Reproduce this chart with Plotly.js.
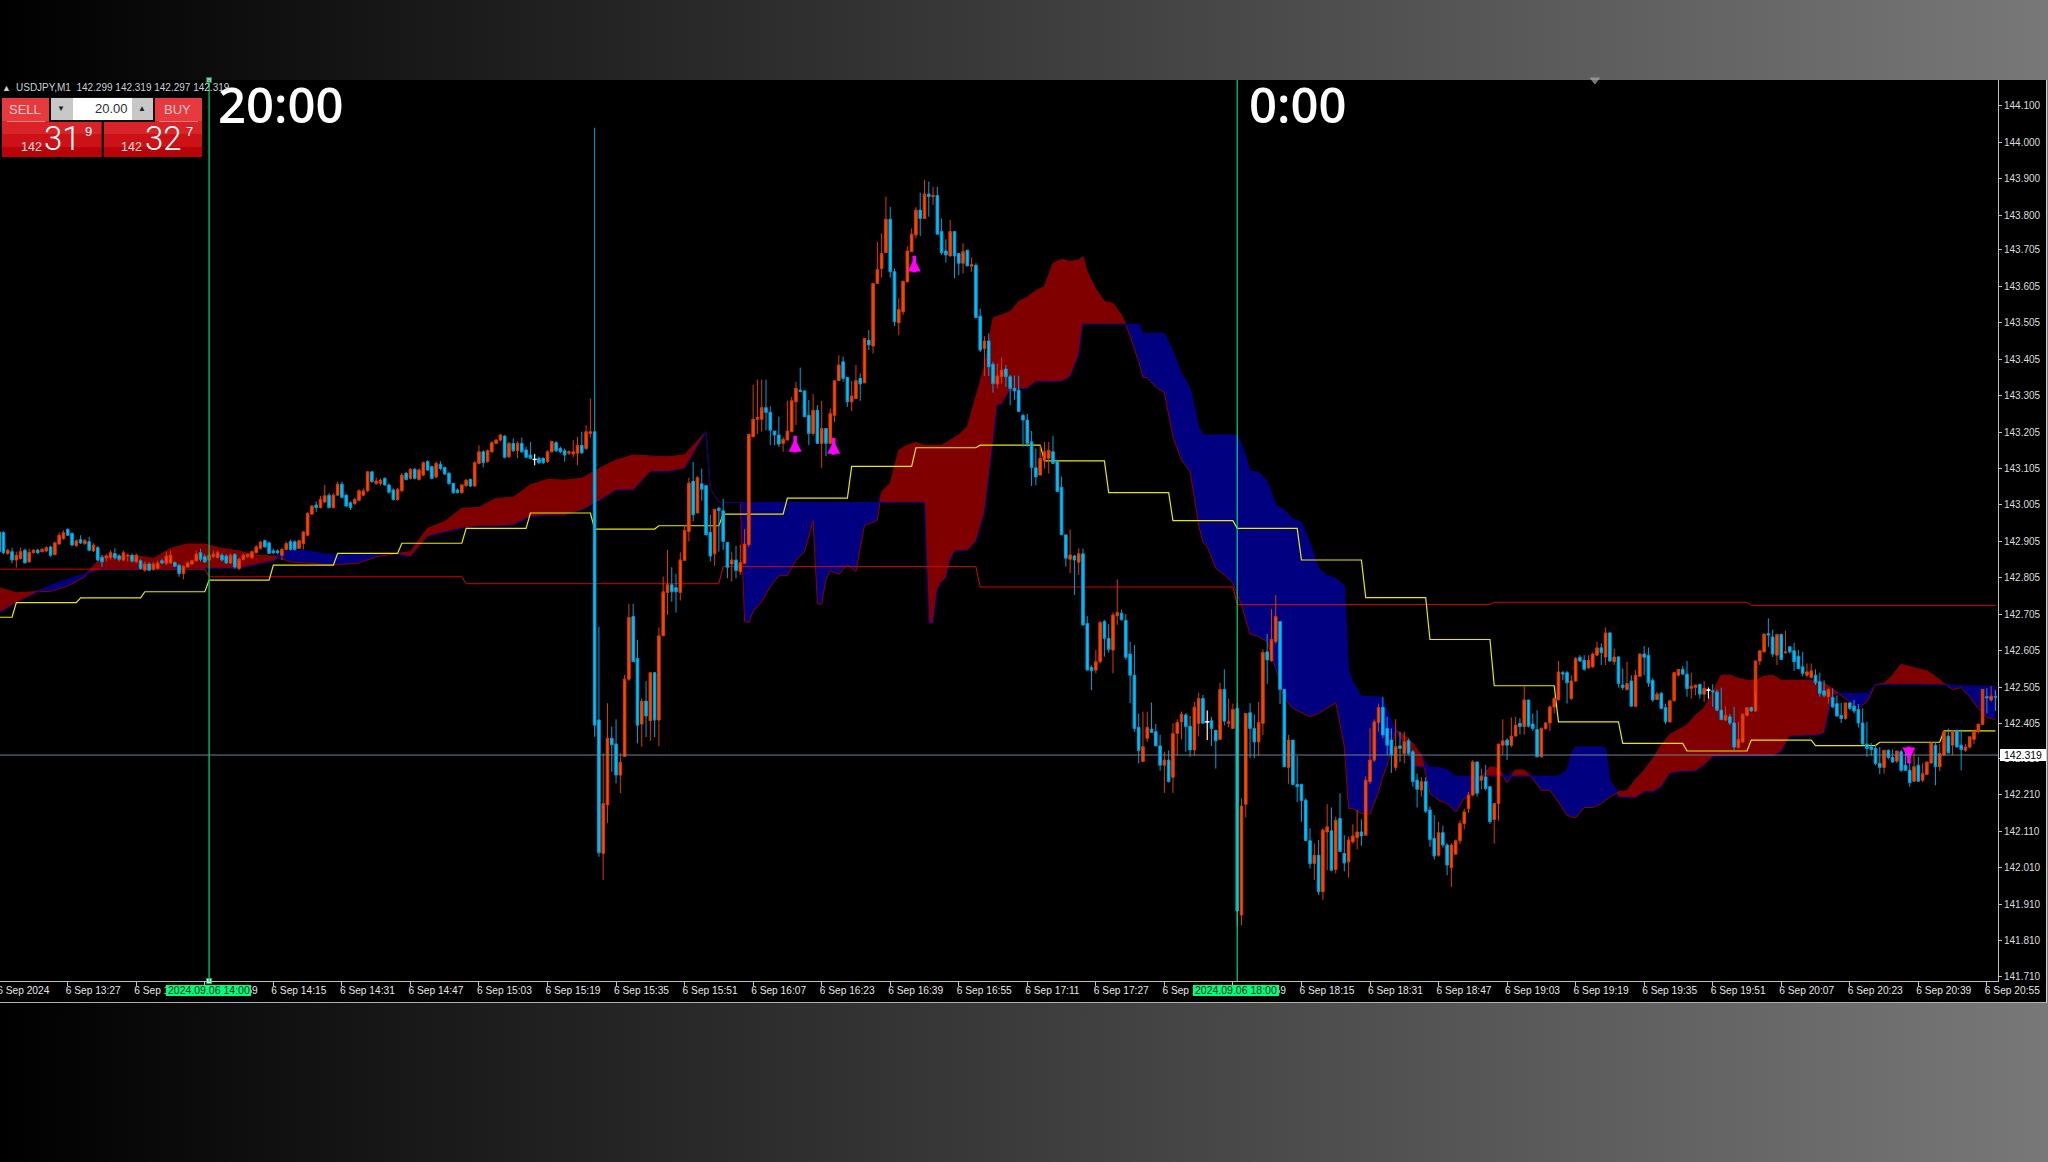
<!DOCTYPE html>
<html><head><meta charset="utf-8">
<script src="https://cdn.plot.ly/plotly-3.0.1.min.js"></script>
<style>
html,body{margin:0;padding:0;width:2048px;height:1162px;overflow:hidden;background:linear-gradient(to right,#000 0%,#787878 100%);}
#chart{position:absolute;left:-10px;top:0;width:2058px;height:1162px;}
</style></head><body><div id="chart"></div>
<script>
// Bars are minute indexes, 0 = 6 Sep 13:11
const candleOpen=[
142.931,142.929,142.872,142.877,142.854,142.858,142.881,142.849,142.874,142.881,
142.877,142.879,142.890,142.869,142.898,142.913,142.938,142.927,142.894,142.910,
142.899,142.904,142.879,142.888,142.861,142.860,142.861,142.872,142.865,142.854,
142.865,142.867,142.849,142.852,142.826,142.843,142.829,142.831,142.852,142.845,
142.846,142.847,142.840,142.817,142.835,142.843,142.852,142.874,142.863,142.854,
142.863,142.861,142.867,142.865,142.846,142.869,142.831,142.856,142.863,142.860,
142.874,142.886,142.907,142.901,142.879,142.879,142.867,142.883,142.904,142.904,
142.886,142.899,142.922,142.980,143.005,142.998,143.013,143.032,142.998,143.032,
143.062,143.032,143.011,143.009,143.018,143.032,143.044,143.096,143.064,143.064,
143.078,143.060,143.046,143.020,143.044,143.092,143.078,143.103,143.075,143.087,
143.124,143.110,143.082,143.117,143.108,143.092,143.064,143.046,143.039,143.058,
143.075,143.057,143.119,143.151,143.124,143.151,143.174,143.183,143.194,143.137,
143.174,143.154,143.174,143.156,143.142,143.130,143.133,143.133,143.124,143.151,
143.176,143.160,143.154,143.147,143.145,143.147,143.169,143.160,143.201,143.206,
142.415,142.049,142.182,142.365,142.349,142.264,142.315,142.527,142.699,142.584,
142.404,142.467,142.413,142.545,142.415,142.646,142.765,142.786,142.778,142.765,
142.853,142.932,143.070,142.983,143.063,143.058,142.930,142.871,142.996,142.989,
142.902,142.843,142.854,142.822,142.845,142.896,143.192,143.240,143.240,143.272,
143.259,143.208,143.197,143.174,143.183,143.206,143.288,143.320,143.318,143.251,
143.201,143.265,143.174,143.215,143.174,143.251,143.346,143.398,143.355,143.288,
143.297,143.352,143.340,143.457,143.441,143.613,143.654,143.697,143.789,143.645,
143.505,143.535,143.617,143.700,143.746,143.814,143.791,143.858,143.851,143.854,
143.755,143.702,143.688,143.755,143.695,143.668,143.704,143.660,143.663,143.523,
143.434,143.455,143.391,143.337,143.357,143.378,143.357,143.325,143.320,143.251,
143.238,143.178,143.107,143.087,143.128,143.133,143.151,143.124,143.054,142.923,
142.856,142.865,142.848,142.871,142.680,142.559,142.552,142.575,142.685,142.639,
142.607,142.701,142.708,142.688,142.596,142.538,142.395,142.301,142.365,142.390,
142.383,142.344,142.291,142.305,142.258,142.378,142.410,142.429,142.398,142.333,
142.406,142.474,142.410,142.413,142.387,142.362,142.499,142.406,142.392,142.447,
141.880,142.184,142.435,142.392,142.355,142.406,142.602,142.578,142.630,142.685,
142.499,142.285,142.360,142.238,142.238,142.195,142.084,142.021,142.044,141.944,
142.108,142.111,142.005,142.145,142.049,142.026,142.081,142.093,142.108,142.099,
142.246,142.305,142.408,142.450,142.392,142.360,142.285,142.344,142.323,142.358,
142.328,142.250,142.223,142.246,142.168,142.090,142.044,142.106,142.072,142.010,
142.047,142.084,142.131,142.172,142.209,142.300,142.250,142.259,142.232,142.142,
142.186,142.346,142.360,142.346,142.371,142.406,142.397,142.470,142.404,142.389,
142.314,142.392,142.407,142.451,142.471,142.545,142.545,142.474,142.522,142.587,
142.579,142.558,142.561,142.593,142.613,142.588,142.654,142.575,142.588,142.511,
142.499,142.522,142.453,142.535,142.596,142.593,142.524,142.471,142.488,142.449,
142.410,142.468,142.538,142.554,142.541,142.502,142.504,142.513,142.486,142.497,
142.495,142.492,142.442,142.415,142.424,142.407,142.340,142.355,142.428,142.449,
142.440,142.577,142.602,142.652,142.643,142.593,142.650,142.599,142.616,142.605,
142.590,142.561,142.538,142.532,142.538,142.520,142.495,142.479,142.477,142.460,
142.428,142.419,142.462,142.453,142.444,142.407,142.349,142.341,142.337,142.296,
142.285,142.332,142.312,142.302,142.328,142.291,142.277,142.247,142.291,142.250,
142.266,142.297,142.346,142.287,142.319,142.371,142.346,142.387,142.346,142.332,
142.341,142.362,142.383,142.403,142.479,142.470,142.479];
const candleHigh=[
142.936,142.933,142.885,142.888,142.877,142.888,142.885,142.885,142.884,142.885,
142.887,142.892,142.893,142.905,142.929,142.935,142.941,142.930,142.910,142.922,
142.912,142.918,142.900,142.892,142.868,142.870,142.881,142.886,142.870,142.880,
142.872,142.872,142.872,142.856,142.850,142.848,142.848,142.853,142.858,142.877,
142.880,142.850,142.842,142.840,142.850,142.855,142.880,142.885,142.870,142.875,
142.880,142.880,142.873,142.870,142.872,142.873,142.860,142.872,142.872,142.880,
142.895,142.906,142.910,142.905,142.885,142.883,142.888,142.905,142.910,142.908,
142.910,142.934,142.985,143.005,143.015,143.030,143.060,143.037,143.037,143.069,
143.069,143.035,143.015,143.025,143.048,143.050,143.098,143.098,143.080,143.078,
143.081,143.064,143.050,143.052,143.093,143.096,143.106,143.107,143.105,143.124,
143.128,143.113,143.125,143.125,143.110,143.095,143.066,143.050,143.063,143.076,
143.078,143.125,143.169,143.155,143.157,143.180,143.186,143.200,143.197,143.178,
143.188,143.180,143.190,143.165,143.178,143.145,143.138,143.136,143.155,143.182,
143.180,143.165,143.160,143.155,143.183,143.192,143.206,143.224,143.297,144.040,
142.671,142.324,142.461,142.397,142.417,142.324,142.539,142.734,142.734,142.635,
142.475,142.522,142.545,142.545,142.669,142.809,142.882,142.834,142.816,142.875,
142.950,143.080,143.123,143.084,143.105,143.057,142.978,142.993,143.000,143.022,
142.902,142.877,142.893,142.896,142.939,143.199,143.334,143.349,143.349,143.349,
143.276,143.208,143.247,143.192,143.291,143.302,143.343,143.382,143.318,143.293,
143.309,143.279,143.291,143.215,143.270,143.346,143.416,143.412,143.355,143.345,
143.389,143.366,143.462,143.485,143.613,143.727,143.750,143.851,143.823,143.654,
143.572,143.619,143.714,143.764,143.822,143.862,143.897,143.892,143.878,143.878,
143.791,143.734,143.787,143.755,143.695,143.723,143.704,143.684,143.668,143.544,
143.468,143.476,143.398,143.393,143.410,143.389,143.362,143.360,143.360,143.255,
143.255,143.208,143.160,143.169,143.178,143.178,143.194,143.127,143.083,142.923,
142.938,142.868,142.886,142.885,142.700,142.565,142.607,142.687,142.690,142.678,
142.710,142.801,142.718,142.706,142.630,142.621,142.433,142.438,142.438,142.463,
142.404,142.375,142.328,142.332,142.406,142.417,142.438,142.434,142.426,142.465,
142.490,142.484,142.441,142.424,142.387,142.517,142.554,142.474,142.460,142.461,
142.200,142.433,142.461,142.430,142.465,142.609,142.651,142.719,142.758,142.685,
142.499,142.374,142.360,142.316,142.241,142.200,142.118,142.076,142.086,142.118,
142.184,142.175,142.150,142.214,142.099,142.095,142.129,142.168,142.142,142.261,
142.392,142.417,142.460,142.479,142.424,142.392,142.417,142.383,142.383,142.365,
142.332,142.268,142.258,142.258,142.178,142.154,142.136,142.125,142.077,142.077,
142.087,142.140,142.172,142.218,142.305,142.300,142.282,142.292,142.232,142.186,
142.349,142.417,142.365,142.422,142.424,142.420,142.508,142.470,142.433,142.442,
142.395,142.410,142.455,142.478,142.577,142.550,142.550,142.538,142.588,142.593,
142.593,142.593,142.600,142.630,142.625,142.669,142.657,142.611,142.590,142.556,
142.575,142.538,142.552,142.598,142.618,142.614,142.529,142.492,142.492,142.460,
142.408,142.470,142.547,142.563,142.577,142.545,142.511,142.512,142.522,142.504,
142.513,142.499,142.504,142.453,142.432,142.451,142.410,142.364,142.433,142.452,
142.492,142.579,142.610,142.694,142.663,142.648,142.652,142.660,142.607,142.627,
142.607,142.602,142.570,142.570,142.554,142.545,142.524,142.502,142.502,142.483,
142.462,142.431,142.465,142.470,142.459,142.447,142.410,142.352,142.346,142.341,
142.300,142.334,142.334,142.316,142.334,142.332,142.314,142.328,142.314,142.296,
142.282,142.305,142.355,142.349,142.351,142.392,142.383,142.387,142.389,142.349,
142.343,142.371,142.387,142.419,142.502,142.508,142.497,142.502];
const candleLow=[
142.872,142.870,142.868,142.845,142.833,142.855,142.845,142.846,142.872,142.870,
142.875,142.875,142.862,142.866,142.895,142.910,142.920,142.893,142.890,142.898,
142.895,142.878,142.876,142.850,142.835,142.850,142.855,142.855,142.850,142.850,
142.850,142.847,142.845,142.828,142.822,142.824,142.825,142.829,142.843,142.840,
142.843,142.835,142.808,142.801,142.833,142.840,142.850,142.850,142.846,142.852,
142.860,142.858,142.850,142.843,142.843,142.830,142.826,142.853,142.860,142.858,
142.872,142.883,142.888,142.870,142.870,142.870,142.854,142.880,142.880,142.880,
142.884,142.883,142.920,142.978,142.986,142.995,143.010,142.995,142.995,143.030,
143.023,143.000,142.991,143.005,143.015,143.030,143.040,143.066,143.060,143.058,
143.058,143.036,143.017,143.017,143.040,143.072,143.075,143.075,143.072,143.084,
143.098,143.075,143.078,143.100,143.087,143.060,143.035,143.036,143.035,143.055,
143.054,143.055,143.116,143.108,143.121,143.148,143.172,143.180,143.133,143.134,
143.150,143.133,143.148,143.133,143.130,143.114,143.117,143.117,143.120,143.148,
143.150,143.147,143.124,143.142,143.135,143.114,143.145,143.155,143.190,142.369,
142.040,141.976,142.132,142.273,142.241,142.214,142.315,142.522,142.575,142.351,
142.342,142.368,142.358,142.368,142.344,142.646,142.703,142.740,142.710,142.743,
142.853,142.905,142.960,142.983,143.017,142.923,142.850,142.838,142.877,142.882,
142.804,142.795,142.804,142.813,142.845,142.889,143.192,143.200,143.206,143.210,
143.169,143.169,143.164,143.151,143.183,143.206,143.224,143.316,143.247,143.169,
143.195,143.174,143.107,143.139,143.174,143.233,143.346,143.343,143.274,143.263,
143.297,143.291,143.340,143.430,143.421,143.613,143.629,143.697,143.629,143.496,
143.471,143.526,143.617,143.700,143.736,143.743,143.791,143.796,143.828,143.748,
143.691,143.670,143.688,143.627,143.636,143.640,143.661,143.645,143.519,143.425,
143.359,143.359,143.313,143.325,143.338,143.329,143.279,143.293,143.261,143.165,
143.165,143.057,143.059,143.087,143.105,143.091,143.119,143.040,142.923,142.836,
142.818,142.758,142.813,142.673,142.552,142.497,142.543,142.570,142.589,142.600,
142.543,142.676,142.688,142.580,142.461,142.383,142.296,142.300,142.355,142.381,
142.344,142.276,142.215,142.244,142.215,142.319,142.362,142.328,142.314,142.317,
142.370,142.406,142.360,142.344,142.282,142.360,142.400,142.395,142.392,141.848,
141.852,142.148,142.310,142.310,142.317,142.374,142.514,142.575,142.625,142.459,
142.287,142.239,142.236,142.190,142.136,142.084,142.008,141.976,141.935,141.921,
142.003,142.000,141.994,142.054,142.000,141.983,142.076,142.060,142.070,142.099,
142.240,142.300,142.383,142.365,142.319,142.270,142.276,142.300,142.296,142.320,
142.232,142.175,142.205,142.160,142.067,142.032,142.040,142.065,141.989,141.957,
142.047,142.075,142.115,142.160,142.205,142.205,142.225,142.222,142.130,142.076,
142.139,142.320,142.305,142.340,142.370,142.375,142.375,142.395,142.385,142.314,
142.312,142.388,142.385,142.433,142.468,142.524,142.460,142.470,142.520,142.574,
142.550,142.556,142.558,142.590,142.566,142.566,142.575,142.566,142.504,142.497,
142.495,142.451,142.450,142.533,142.538,142.506,142.465,142.470,142.444,142.404,
142.408,142.466,142.535,142.538,142.479,142.474,142.483,142.474,142.465,142.474,
142.451,142.440,142.415,142.412,142.401,142.330,142.337,142.352,142.425,142.437,
142.437,142.566,142.600,142.616,142.588,142.566,142.579,142.598,142.598,142.550,
142.554,142.535,142.532,142.529,142.511,142.479,142.477,142.460,142.449,142.424,
142.407,142.416,142.442,142.433,142.394,142.346,142.314,142.316,142.291,142.266,
142.268,142.307,142.297,142.297,142.273,142.275,142.232,142.245,142.245,142.245,
142.264,142.296,142.236,142.275,142.316,142.323,142.319,142.340,142.277,142.328,
142.337,142.349,142.378,142.401,142.433,142.465,142.440];
const candleClose=[
142.877,142.874,142.881,142.854,142.867,142.877,142.846,142.875,142.881,142.874,
142.883,142.888,142.867,142.901,142.922,142.929,142.922,142.895,142.907,142.901,
142.907,142.881,142.895,142.854,142.849,142.865,142.874,142.860,142.856,142.874,
142.867,142.851,142.867,142.831,142.843,142.826,142.843,142.846,142.846,142.865,
142.867,142.837,142.817,142.837,142.846,142.852,142.870,142.856,142.849,142.867,
142.870,142.874,142.854,142.846,142.867,142.835,142.856,142.867,142.869,142.877,
142.890,142.903,142.890,142.872,142.874,142.874,142.883,142.899,142.883,142.883,
142.907,142.931,142.982,143.002,142.998,143.020,143.030,142.998,143.032,143.062,
143.026,143.002,142.998,143.020,143.044,143.044,143.096,143.069,143.071,143.073,
143.060,143.040,143.020,143.048,143.087,143.075,143.103,143.078,143.101,143.121,
143.101,143.078,143.119,143.105,143.090,143.064,143.039,143.039,143.060,143.073,
143.057,143.121,143.151,143.121,143.154,143.176,143.183,143.197,143.136,143.174,
143.154,143.174,143.151,143.136,143.133,143.130,143.121,143.121,143.151,143.179,
143.154,143.151,143.142,143.151,143.151,143.169,143.148,143.206,143.206,142.401,
142.051,142.186,142.365,142.347,142.264,142.299,142.527,142.696,142.575,142.401,
142.467,142.426,142.545,142.415,142.646,142.767,142.786,142.767,142.767,142.854,
142.935,143.065,142.978,143.080,143.048,142.923,142.865,142.993,142.990,142.905,
142.834,142.854,142.825,142.847,142.898,143.199,143.240,143.245,143.272,143.259,
143.210,143.197,143.172,143.185,143.208,143.291,143.325,143.316,143.247,143.201,
143.265,143.174,143.215,143.174,143.256,143.346,143.389,143.352,143.288,143.304,
143.346,143.337,143.462,143.444,143.613,143.651,143.695,143.789,143.645,143.508,
143.541,143.619,143.702,143.748,143.814,143.791,143.858,143.851,143.854,143.748,
143.697,143.691,143.755,143.688,143.668,143.700,143.661,143.665,143.519,143.430,
143.455,143.384,143.338,143.359,143.375,143.357,143.325,143.318,143.261,143.238,
143.174,143.108,143.082,143.133,143.151,143.155,143.119,143.042,142.923,142.859,
142.868,142.854,142.871,142.676,142.552,142.550,142.575,142.682,142.639,142.609,
142.703,142.710,142.690,142.587,142.538,142.392,142.331,142.342,142.395,142.381,
142.344,142.291,142.305,142.246,142.378,142.408,142.431,142.397,142.333,142.450,
142.474,142.406,142.410,142.392,142.358,142.499,142.412,142.410,142.444,141.891,
142.179,142.433,142.392,142.355,142.408,142.600,142.580,142.636,142.699,142.499,
142.287,142.360,142.238,142.232,142.194,142.084,142.021,142.044,141.944,142.113,
142.122,142.003,142.140,142.054,142.023,142.086,142.097,142.108,142.097,142.250,
142.305,142.410,142.449,142.374,142.346,142.319,142.342,142.337,142.355,142.323,
142.246,142.225,142.246,142.165,142.087,142.042,142.106,142.072,142.017,142.072,
142.084,142.131,142.163,142.209,142.300,142.214,142.261,142.227,142.136,142.186,
142.349,142.358,142.346,142.371,142.401,142.397,142.470,142.398,142.392,142.314,
142.392,142.407,142.451,142.474,142.547,142.541,142.517,142.522,142.584,142.577,
142.554,142.579,142.596,142.613,142.600,142.654,142.577,142.588,142.515,142.504,
142.515,142.453,142.538,142.596,142.587,142.517,142.470,142.486,142.447,142.410,
142.468,142.545,142.554,142.541,142.501,142.508,142.511,142.486,142.502,142.497,
142.492,142.442,142.416,142.428,142.407,142.341,142.362,142.431,142.449,142.440,
142.577,142.605,142.651,142.648,142.596,142.650,142.581,142.602,142.602,142.575,
142.556,142.543,142.547,142.550,142.517,142.488,142.483,142.499,142.451,142.426,
142.419,142.462,142.447,142.440,142.407,142.349,142.337,142.334,142.296,142.285,
142.332,142.312,142.300,142.330,142.277,142.277,142.243,142.287,142.247,142.268,
142.300,142.352,142.287,142.323,142.383,142.325,142.385,142.341,142.334,142.341,
142.369,142.385,142.404,142.499,142.476,142.481,142.478];

// Ichimoku cloud: sampled bars and the two spans
const cloudBar=[0,4,8,12,16,20,24,28,32,36,40,44,48,52,56,60,64,68,72,76,80,84,88,92,96,100,104,108,112,116,120,124,128,132,136,140,144,148,152,156,160,164,165,166,168,172,173,174,175,176,178,180,182,184,186,188,190,191,192,193,194,196,198,200,202,204,205,206,208,210,212,214,216,217,218,219,220,221,222,223,224,226,228,230,231,232,233,234,236,238,240,242,244,246,248,250,252,253,254,256,258,260,262,263,264,266,267,268,270,272,274,276,278,280,281,282,284,286,288,289,290,291,292,294,296,298,300,302,304,306,308,310,312,314,315,316,318,320,322,323,324,326,328,330,332,334,336,338,340,342,344,346,348,350,352,354,356,358,360,362,364,366,367,368,370,372,374,375,376,378,380,382,384,386,388,390,392,394,396,398,400,402,404,406,408,410,412,414,416,418,420,422,424,426,428,430,432,434,436,438,440,442,444,446,448,450,452,454,456,458,460,462,464,466];
const spanA=[142.778,142.764,142.767,142.768,142.783,142.808,142.865,142.865,142.866,142.858,142.886,142.898,142.898,142.886,142.879,142.867,142.865,142.849,142.845,142.842,142.842,142.846,142.863,142.870,142.877,142.941,142.959,142.996,142.998,143.023,143.026,143.060,143.075,143.073,143.078,143.105,143.128,143.142,143.139,143.137,143.142,143.192,143.206,143.050,143.012,143.012,143.012,142.685,142.682,142.713,142.740,142.781,142.811,142.811,142.854,142.877,142.962,142.733,142.733,142.800,142.825,142.815,142.841,142.822,142.950,142.957,142.964,143.041,143.064,143.155,143.169,143.176,143.169,143.169,143.169,143.170,143.169,143.175,143.183,143.190,143.197,143.219,143.302,143.384,143.450,143.517,143.523,143.526,143.535,143.563,143.575,143.593,143.604,143.668,143.679,143.673,143.677,143.686,143.645,143.597,143.563,143.558,143.526,143.501,143.467,143.398,143.355,143.354,143.329,143.313,143.192,143.128,143.097,142.950,142.902,142.891,142.831,142.813,142.790,142.763,142.731,142.689,142.651,142.644,142.630,142.557,142.474,142.447,142.435,142.424,142.433,142.447,142.463,142.342,142.172,142.172,142.159,142.157,142.218,142.259,142.291,142.387,142.374,142.351,142.319,142.214,142.195,142.186,142.163,142.200,142.214,142.259,142.287,142.282,142.243,142.278,142.278,142.254,142.222,142.222,142.190,142.154,142.149,142.147,142.175,142.175,142.186,142.195,142.204,142.218,142.221,142.252,142.277,142.309,142.346,142.375,142.387,142.401,142.428,142.447,142.492,142.538,142.538,142.529,142.524,142.524,142.535,142.538,142.524,142.524,142.524,142.524,142.524,142.517,142.501,142.483,142.465,142.447,142.465,142.513,142.515,142.538,142.568,142.561,142.555,142.550,142.534,142.515,142.499,142.504,142.479,142.447,142.422,142.416];
const spanB=[142.709,142.737,142.760,142.785,142.801,142.815,142.831,142.831,142.831,142.831,142.831,142.831,142.831,142.831,142.831,142.842,142.851,142.881,142.879,142.870,142.870,142.872,142.872,142.872,142.863,142.918,142.931,142.941,142.947,142.947,142.950,142.973,142.977,142.977,142.991,143.016,143.046,143.046,143.096,143.096,143.105,143.187,143.206,143.050,143.012,143.012,143.012,143.012,143.012,143.012,143.012,143.012,143.012,143.012,143.012,143.012,143.012,143.012,143.012,143.012,143.012,143.012,143.012,143.012,143.012,143.012,143.012,143.012,143.012,143.012,143.012,143.012,143.012,142.680,142.680,142.772,142.795,142.804,142.854,142.877,142.880,142.880,142.905,142.983,143.074,143.174,143.279,143.282,143.320,143.322,143.325,143.343,143.343,143.343,143.344,143.357,143.416,143.501,143.501,143.501,143.501,143.501,143.501,143.501,143.501,143.501,143.476,143.476,143.476,143.476,143.425,143.366,143.325,143.220,143.197,143.197,143.197,143.197,143.197,143.197,143.170,143.138,143.097,143.095,143.069,143.005,142.991,142.966,142.957,142.900,142.831,142.811,142.804,142.783,142.552,142.520,142.479,142.479,142.479,142.474,142.438,142.387,142.346,142.287,142.285,142.285,142.285,142.278,142.261,142.261,142.261,142.261,142.261,142.261,142.261,142.261,142.261,142.261,142.261,142.261,142.261,142.277,142.323,142.341,142.341,142.341,142.341,142.337,142.250,142.204,142.202,142.202,142.218,142.218,142.232,142.268,142.273,142.275,142.275,142.291,142.314,142.316,142.316,142.316,142.316,142.316,142.316,142.316,142.328,142.371,142.371,142.371,142.373,142.378,142.483,142.488,142.488,142.488,142.488,142.511,142.513,142.513,142.513,142.513,142.513,142.513,142.513,142.513,142.511,142.509,142.508,142.508,142.508,142.508];

// Step lines
const yellowBar=[0,3,4,18,19,33,34,48,49,63,64,78,79,93,94,108,109,123,124,138,139,153,154,168,169,183,184,198,199,213,214,228,229,243,244,258,259,273,274,288,289,303,304,318,319,333,334,348,349,363,364,378,379,393,394,408,409,423,424,438,439,453,454,466];
const yellowVal=[142.697,142.697,142.737,142.737,142.750,142.750,142.767,142.767,142.799,142.799,142.840,142.840,142.872,142.872,142.900,142.900,142.941,142.941,142.983,142.983,142.939,142.939,142.948,142.948,142.980,142.980,143.024,143.024,143.111,143.111,143.162,143.162,143.169,143.169,143.126,143.126,143.039,143.039,142.962,142.962,142.941,142.941,142.854,142.854,142.751,142.751,142.636,142.636,142.509,142.509,142.410,142.410,142.351,142.351,142.330,142.330,142.360,142.360,142.345,142.345,142.354,142.354,142.385,142.385];
const redBar=[0,48,49,108,109,168,169,228,229,288,289,348,349,408,409,466];
const redVal=[142.829,142.829,142.808,142.808,142.789,142.789,142.836,142.836,142.780,142.780,142.732,142.732,142.738,142.738,142.729,142.729];

const arrowUpBar=[185.8,194.8,213.6], arrowUpPrice=[143.182,143.176,143.676];
const arrowDownBar=[445.8], arrowDownPrice=[142.309];
const dojiBar=[125,282,399];
const currentPrice=142.319;
const verticalBars=[49,289];

const priceTicks=[144.100,144.000,143.900,143.800,143.705,143.605,143.505,143.405,143.305,143.205,143.105,143.005,142.905,142.805,142.705,142.605,142.505,142.405,142.310,142.210,142.110,142.010,141.910,141.810,141.710];
const timeLabels=["6 Sep 2024","6 Sep 13:27","6 Sep 13:43","6 Sep 13:59","6 Sep 14:15","6 Sep 14:31","6 Sep 14:47","6 Sep 15:03","6 Sep 15:19","6 Sep 15:35","6 Sep 15:51","6 Sep 16:07","6 Sep 16:23","6 Sep 16:39","6 Sep 16:55","6 Sep 17:11","6 Sep 17:27","6 Sep 17:43","6 Sep 17:59","6 Sep 18:15","6 Sep 18:31","6 Sep 18:47","6 Sep 19:03","6 Sep 19:19","6 Sep 19:35","6 Sep 19:51","6 Sep 20:07","6 Sep 20:23","6 Sep 20:39","6 Sep 20:55"];
const timeTicks=timeLabels.map((_,k)=>k*16);

const bars=candleOpen.map((_,i)=>i);
const cloudTop=spanA.map((a,i)=>Math.max(a,spanB[i]));
const noHover={hoverinfo:'skip',showlegend:false};
const thin=(c)=>({color:c,width:1});
const overlayAxes={xaxis:'x2',yaxis:'y2'};

const traces=[
 {x:cloudBar,y:cloudTop,mode:'lines',line:{width:0},...noHover},
 {x:cloudBar,y:spanB,mode:'lines',line:{width:0},fill:'tonexty',fillcolor:'#800000',...noHover},
 {x:cloudBar,y:cloudTop,mode:'lines',line:{width:0},...noHover},
 {x:cloudBar,y:spanA,mode:'lines',line:{width:0},fill:'tonexty',fillcolor:'#000080',...noHover},
 {x:cloudBar,y:spanA,mode:'lines',line:thin('#8a0000'),...noHover},
 {x:cloudBar,y:spanB,mode:'lines',line:thin('#000090'),...noHover},
 {x:redBar,y:redVal,mode:'lines',line:thin('#d80000'),...noHover},
 {x:yellowBar,y:yellowVal,mode:'lines',line:{color:'#e8e800',width:1.2},...noHover},
 {type:'candlestick',x:bars,open:candleOpen,high:candleHigh,low:candleLow,close:candleClose,...overlayAxes,
  increasing:{line:{color:'#d83c00',width:1},fillcolor:'#ff4500'},
  decreasing:{line:{color:'#00a0d8',width:1},fillcolor:'#00bfff'},
  whiskerwidth:0,...noHover},
 {x:dojiBar.flatMap(b=>[b,b,null]),y:dojiBar.flatMap(b=>[candleHigh[b],candleLow[b],null]),mode:'lines',line:thin('#ffffff'),...overlayAxes,...noHover},
 {x:dojiBar,y:dojiBar.map(b=>candleClose[b]),mode:'markers',marker:{symbol:'line-ew',size:3,line:{color:'#ffffff',width:1.5}},...overlayAxes,...noHover},
 {x:arrowUpBar,y:arrowUpPrice.map(p=>p-0.010),mode:'markers',marker:{symbol:'line-ns',size:12,line:{color:'#ff00ff',width:3.5}},...overlayAxes,...noHover},
 {x:arrowUpBar,y:arrowUpPrice.map(p=>p+0.005),mode:'markers',marker:{symbol:'arrow-up',size:13,color:'#ff00ff',line:{width:0},angleref:'up'},...overlayAxes,...noHover},
 {x:arrowDownBar,y:arrowDownPrice.map(p=>p+0.010),mode:'markers',marker:{symbol:'line-ns',size:12,line:{color:'#ff00ff',width:3.5}},...overlayAxes,...noHover},
 {x:arrowDownBar,y:arrowDownPrice.map(p=>p-0.005),mode:'markers',marker:{symbol:'arrow-down',size:13,color:'#ff00ff',line:{width:0}},...overlayAxes,...noHover},
 {x:[verticalBars[0],372.5],y:[144.171,144.171],mode:'markers',cliponaxis:false,
  marker:{symbol:['square','triangle-down'],size:[5,8],color:['#ffffff','#a8a8a8'],line:{color:['#00c060','#a8a8a8'],width:1}},...overlayAxes,...noHover},
 {x:[verticalBars[0]],y:[141.699],mode:'markers',cliponaxis:false,
  marker:{symbol:'square',size:5,color:'#ffffff',line:{color:'#00c060',width:1}},...overlayAxes,...noHover}
];

// page pixel -> paper coordinates
const W=2008,H=901,TOP=80;
const px=x=>(x+10)/W, py=y=>(TOP+H-y)/H;
const rect=(x0,y0,x1,y1,fill,layer,line)=>({type:'rect',xref:'paper',yref:'paper',x0:px(x0),x1:px(x1),y0:py(y1),y1:py(y0),fillcolor:fill,line:line||{width:0},layer:layer||'above'});
const hline=(x0,x1,y,c)=>({type:'line',xref:'paper',yref:'paper',x0:px(x0),x1:px(x1),y0:py(y),y1:py(y),line:{color:c,width:1},layer:'above'});
const label=(text,x,y,size,color,anchor,extra)=>Object.assign({text:text,xref:'paper',yref:'paper',x:px(x),y:py(y),xanchor:anchor||'center',yanchor:'middle',showarrow:false,font:{size:size,color:color,family:'Liberation Sans, Arial, sans-serif'},borderpad:0},extra||{});

const shapes=[
 rect(-10,80,2046,1003,'#000000','below'),
 {type:'line',xref:'paper',yref:'paper',x0:px(-10),x1:px(2046),y0:py(1002.5),y1:py(1002.5),line:{color:'#b0b0b0',width:1},layer:'above'},
 {type:'line',xref:'paper',yref:'paper',x0:px(2046.5),x1:px(2046.5),y0:py(80),y1:py(1003),line:{color:'#d0d0d0',width:1},layer:'above'},
 {type:'line',xref:'x',yref:'y',x0:bars[0]-5,x1:470,y0:currentPrice,y1:currentPrice,line:{color:'#708090',width:1},layer:'above'},
 {type:'line',xref:'x',yref:'paper',x0:verticalBars[0],x1:verticalBars[0],y0:0,y1:1,line:{color:'#00c060',width:1.4},layer:'above'},
 {type:'line',xref:'x',yref:'paper',x0:verticalBars[1],x1:verticalBars[1],y0:0,y1:1,line:{color:'#00d878',width:1.2},layer:'above'},
 // trade panel
 rect(2,98,101.5,157,'#c40000'), rect(104,98,202,157,'#c40000'),
 rect(2,98,51,121,'#e83a3e'), rect(153,98,202,121,'#e83a3e'),
 rect(2,121,101.5,134,'#d82428'), rect(104,121,202,134,'#d82428'),
 rect(2,134,101.5,147,'#cc1216'), rect(104,134,202,147,'#cc1216'),
 rect(2,147,101.5,157,'#b80408'), rect(104,147,202,157,'#b80408'),
 hline(7,45,121.5,'#f08080'), hline(159,198,121.5,'#f08080'),
 rect(49,97,155,122,'#101010'),
 rect(51,98,73,120,'#c8c8c8'), rect(132,98,153,120,'#c8c8c8'), rect(73,98,132,120,'#ffffff'),
 // time badges
 rect(166,985,251,996,'#00ff7f'), rect(1193,985,1279,996,'#00ff7f'),
 // current price box
 rect(2000,749,2046,761,'#ffffff')
];
const bigFont={size:49,color:'#ffffff',family:'Open Sans, sans-serif',weight:600};
const thinFont={size:33,color:'#ffffff',family:'Roboto, sans-serif',weight:300};
const annotations=[
 label('20:00',217,104,49,'#ffffff','left',{font:bigFont}),
 label('0:00',1248,104,49,'#ffffff','left',{font:bigFont}),
 label('▲',6,88,9,'#d0d0d0'),
 label('USDJPY,M1\u00a0\u00a0142.299 142.319 142.297 142.319',15,88,10,'#c8d0d8','left'),
 label('SELL',25,109,13,'#f8c8c8'), label('BUY',177,109,13,'#f8c8c8'),
 label('20.00',129,108.5,13,'#303030','right'),
 label('▼',61,108,8,'#202020'), label('▲',142,108,8,'#202020'),
 label('142',31,147,12.5,'#f4e0e0'), label('142',131,147,12.5,'#f4e0e0'),
 label('31',62,139,33,'#ffffff','center',{font:thinFont}),
 label('32',163,139,33,'#ffffff','center',{font:thinFont}),
 label('9',88,131,13,'#ffffff'), label('7',189,131,13,'#ffffff'),
 label('2024.09.06 14:00',208.5,990.5,10.5,'#002812'),
 label('2024.09.06 18:00',1236,990.5,10.5,'#002812'),
 label('142.319',2023,755,10.5,'#000000')
];

const xRange=[-2.148,466.6], yRange=[141.699,144.171];
const layout={
 width:2058,height:1162,autosize:false,
 paper_bgcolor:'rgba(0,0,0,0)',plot_bgcolor:'#000000',
 margin:{l:0,r:50,t:80,b:181,pad:0},
 showlegend:false,boxgap:0.15,hovermode:false,dragmode:false,
 xaxis:{type:'linear',range:xRange,fixedrange:true,rangeslider:{visible:false},
  tickmode:'array',tickvals:timeTicks,ticktext:timeLabels,ticks:'outside',ticklen:4,tickcolor:'#c0c0c0',tickwidth:1,
  ticklabelposition:'outside right',ticklabelshift:-3,showgrid:false,zeroline:false,showline:true,linecolor:'#c0c0c0',linewidth:1,
  tickangle:0,tickfont:{family:'Liberation Sans, Arial, sans-serif',size:10.2,color:'#e6e6e6'}},
 yaxis:{type:'linear',side:'right',range:yRange,fixedrange:true,
  tickmode:'array',tickvals:priceTicks,ticktext:priceTicks.map(v=>v.toFixed(3)),ticks:'outside',ticklen:3,tickcolor:'#c0c0c0',tickwidth:1,
  showgrid:false,zeroline:false,showline:true,linecolor:'#c0c0c0',linewidth:1,
  tickfont:{family:'Liberation Sans, Arial, sans-serif',size:10,color:'#dcdcdc'}},
 xaxis2:{type:'linear',overlaying:'x',range:xRange,visible:false,fixedrange:true,rangeslider:{visible:false}},
 yaxis2:{type:'linear',overlaying:'y',side:'right',range:yRange,visible:false,fixedrange:true},
 shapes:shapes,annotations:annotations
};
Plotly.newPlot('chart',traces,layout,{staticPlot:true,displayModeBar:false});
</script></body></html>
